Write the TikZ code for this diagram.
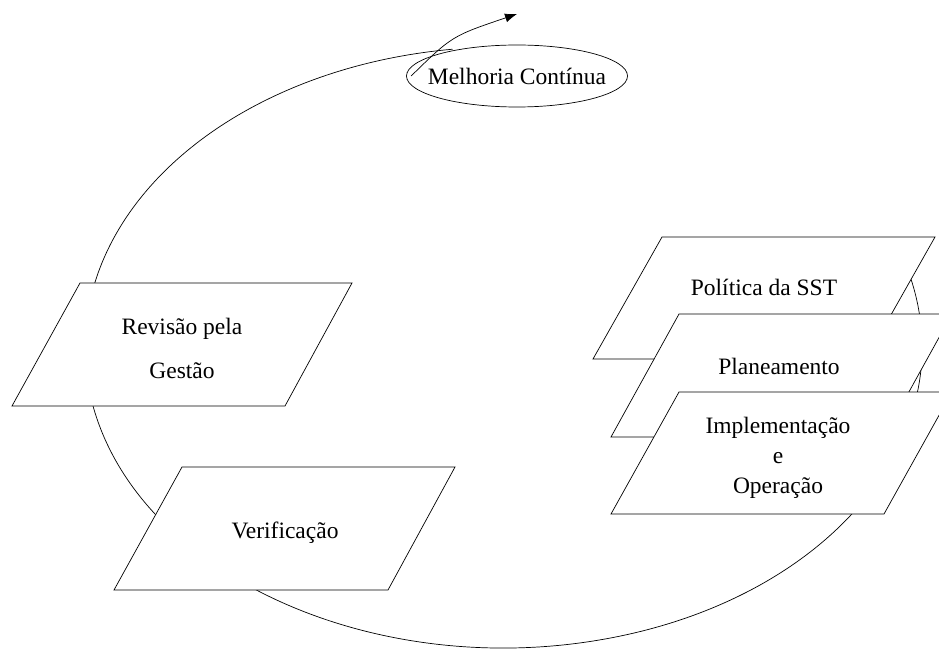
\documentclass[tikz,border=0pt]{standalone}
\usepackage{fontspec}
\setmainfont{Liberation Serif}
\usetikzlibrary{arrows.meta,shapes.geometric}
\begin{document}
\begin{tikzpicture}[x=1pt, y=-1pt, line width=0.7pt,
  box/.style={draw, fill=white},
  txt/.style={font=\fontsize{23.5}{30}\selectfont, align=center, inner sep=0pt}]
\useasboundingbox (0,0) rectangle (939,652);
\clip (0,0) rectangle (939,652);
\coordinate (cyc) at (503.5,347.5);
\draw ([shift={(-13.6:418.5 and 300.5)}]cyc) arc[start angle=-13.6, end angle=263, x radius=418.5, y radius=300.5];
\draw[box] (662,237)--(935,237)--(866,359)--(593,359)--cycle;
\node[txt] (politica) at (764,287) {Política da SST};
\draw[box] (679,314)--(952,314)--(884,437)--(611,437)--cycle;
\node[txt] (planeamento) at (779,366) {Planeamento};
\draw[box] (679,392)--(952,392)--(884,514)--(611,514)--cycle;
\node[txt] (implementacao) at (778,458) {Implementação\\e\\Operação};
\draw[box] (80,283)--(352,283)--(285,406)--(12,406)--cycle;
\node[txt] (revisao) at (182,348) {Revisão pela\\[14pt]Gestão};
\draw[box] (182,467)--(455,467)--(388,590)--(114,590)--cycle;
\node[txt] (verificacao) at (285,533) {Verificação};
\node[draw, fill=white, ellipse, minimum width=221pt, minimum height=62pt, inner sep=0pt,
  label={[txt]center:Melhoria Contínua}] (melhoria) at (517,76) {};
\coordinate (tip) at (517,14);
\draw[-{Latex[length=12pt,width=9pt]}] ([xshift=5pt]melhoria.west) .. controls (452,36) .. (tip);
\end{tikzpicture}
\end{document}
